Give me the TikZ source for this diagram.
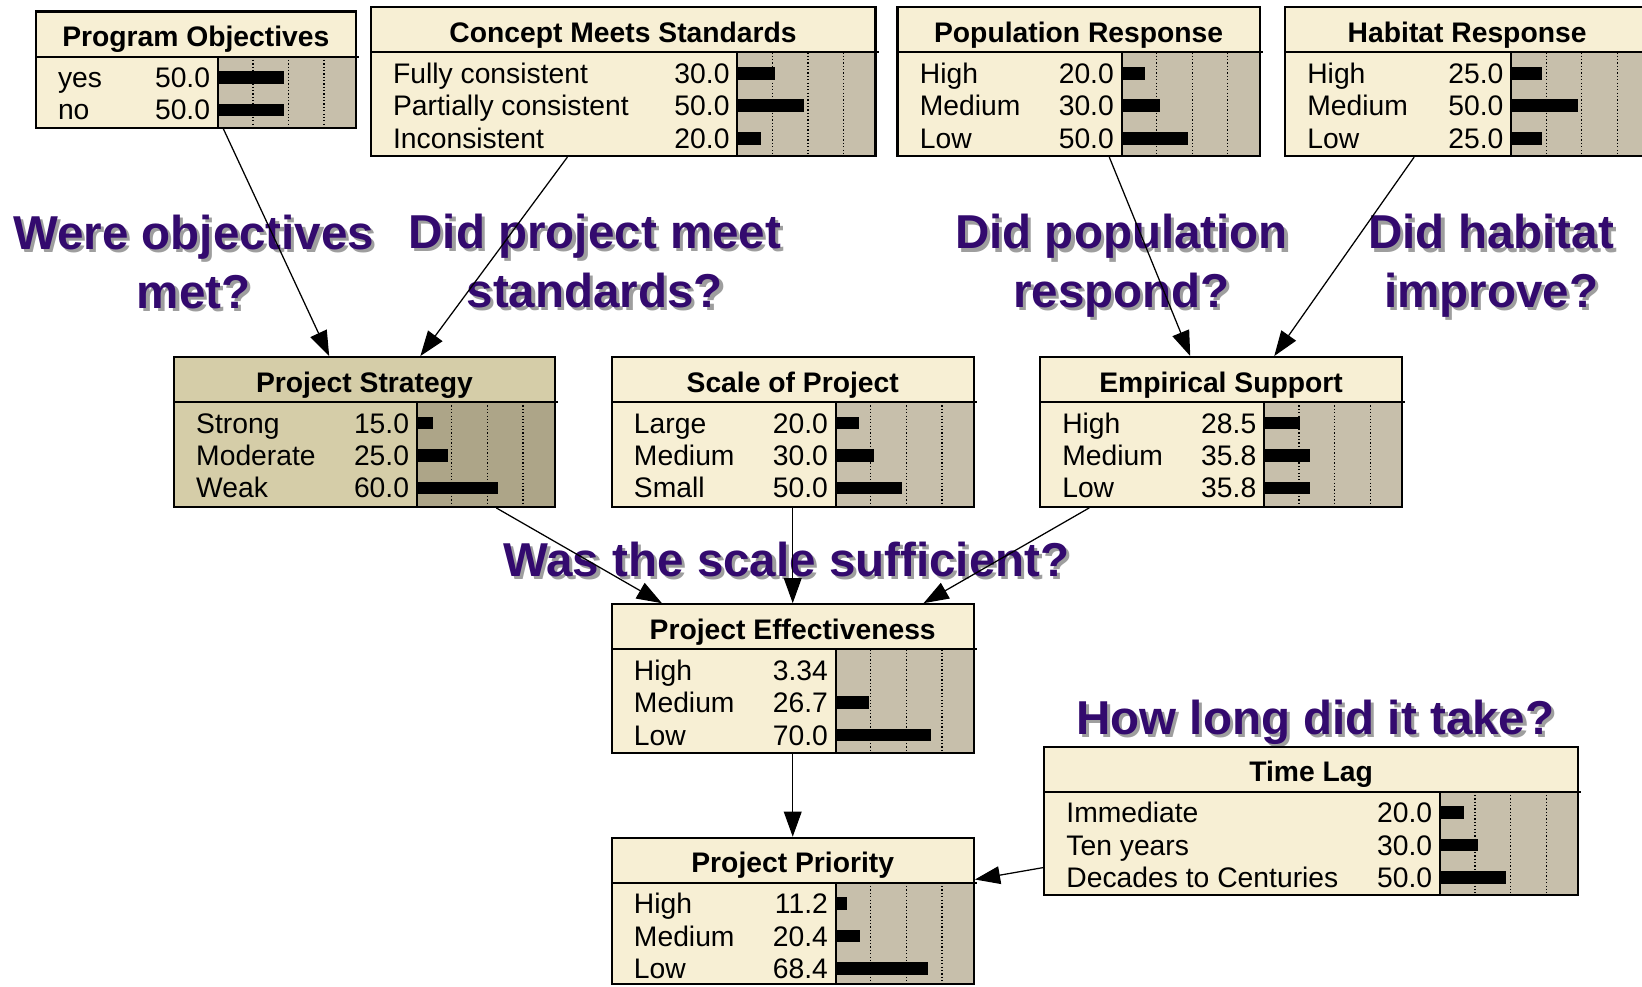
\documentclass[tikz,border=0pt]{standalone}
\usepackage{fontspec}
\setmainfont{Liberation Sans}
\usetikzlibrary{arrows.meta,fit}

\definecolor{cream}{HTML}{F7EFD4}
\definecolor{barback}{HTML}{C7BFAB}
\definecolor{tan}{HTML}{D5CDA8}
\definecolor{tanbar}{HTML}{ADA588}
\definecolor{askpurple}{HTML}{330A6E}
\definecolor{askshadow}{HTML}{9E9E9E}

\tikzset{
  headfill/.style={fill=cream},
  barfill/.style={fill=barback},
  boxframe/.style={draw, line width=1pt, inner sep=0pt},
  boxtitle/.style={font=\fontsize{13.5}{16}\selectfont\bfseries, inner sep=0pt},
  rowtext/.style={font=\fontsize{13.5}{16}\selectfont, inner sep=0pt},
  gridline/.style={densely dotted, line width=0.6pt},
  bnlink/.style={line width=0.6pt, -{Triangle[length=12pt,width=8.5pt]}},
  asked/.style={font=\fontsize{22.7}{28}\selectfont\bfseries, text=askpurple, align=center, inner sep=0pt},
  askedshadow/.style={asked, text=askshadow},
}

\newcommand{\bnbox}[8][]{%
  \begin{scope}[#1]
    \fill[headfill] (#3,#4) rectangle (#5,#6);
    \fill[barfill] (#5-132,#4+43) rectangle (#5,#6);
    \foreach \gx in {33.5,67.5,101.5}
      \draw[gridline] (#5-132+\gx,#4+43) -- (#5-132+\gx,#6);
    \node[boxtitle, anchor=base] at ({(#3+#5)/2},#4+33.5) {#7};
    \foreach \lab/\val [count=\i] in {#8} {
      \pgfmathsetmacro\ry{#4+32+31*\i}
      \pgfmathsetmacro\blen{max(0,1.36*\val-4.5)}
      \fill (#5-132,\ry-6) rectangle ++(\blen,12);
      \node[rowtext, anchor=base west] at (#3+21,\ry+9.5) {\lab};
      \node[rowtext, anchor=base east] at (#5-139,\ry+9.5) {\val};
    }
    \draw[line width=1pt] (#3,#4+43) -- (#5+3,#4+43);
    \draw[line width=1pt] (#5-132,#4+43) -- (#5-132,#6);
    \node[boxframe, fit={(#3,#4) (#5,#6)}] (#2) {};
  \end{scope}}

\newcommand{\asktext}[4]{%
  \node[askedshadow] at (#2+3,#3+3) {#4};
  \node[asked] (#1) at (#2,#3) {#4};}

\begin{document}
\begin{tikzpicture}[x=0.5pt, y=-0.5pt]
  \useasboundingbox (0,0) rectangle (1568,942);
  \clip (0,0) rectangle (1568,942);
  \fill[white] (0,0) rectangle (1568,942);

  \asktext{qobj}{185}{250}{Were objectives\\met?}
  \asktext{qstd}{568}{249}{Did project meet\\standards?}
  \asktext{qpop}{1071}{254}{Did population\\respond?}
  \asktext{qhab}{1424}{254}{Did habitat\\improve?}
  \asktext{qscale}{751}{534}{Was the scale sufficient?}
  \asktext{qlag}{1256}{690}{How long did it take?}

  \bnbox{po}{34}{11}{340}{122}{Program Objectives}{yes/50.0, no/50.0}
  \bnbox{cms}{354}{7}{836}{149}{Concept Meets Standards}{Fully consistent/30.0, Partially consistent/50.0, Inconsistent/20.0}
  \bnbox{pr}{857}{7}{1203}{149}{Population Response}{High/20.0, Medium/30.0, Low/50.0}
  \bnbox{hr}{1227}{7}{1575}{149}{Habitat Response}{High/25.0, Medium/50.0, Low/25.0}
  \bnbox[headfill/.style={fill=tan}, barfill/.style={fill=tanbar}]{ps}{166}{341}{530}{484}{Project Strategy}{Strong/15.0, Moderate/25.0, Weak/60.0}
  \bnbox{sp}{584}{341}{930}{484}{Scale of Project}{Large/20.0, Medium/30.0, Small/50.0}
  \bnbox{es}{993}{341}{1339}{484}{Empirical Support}{High/28.5, Medium/35.8, Low/35.8}
  \bnbox{pe}{584}{577}{930}{719}{Project Effectiveness}{High/3.34, Medium/26.7, Low/70.0}
  \bnbox{tl}{997}{713}{1507}{855}{Time Lag}{Immediate/20.0, Ten years/30.0, Decades to Centuries/50.0}
  \bnbox{pp}{584}{800}{930}{940}{Project Priority}{High/11.2, Medium/20.4, Low/68.4}

  \draw[bnlink] (po) -- (ps);
  \draw[bnlink] (cms) -- (ps);
  \draw[bnlink] (pr) -- (es);
  \draw[bnlink] (hr) -- (es);
  \draw[bnlink] (ps) -- (pe);
  \draw[bnlink] (sp) -- (pe);
  \draw[bnlink] (es) -- (pe);
  \draw[bnlink] (pe) -- (pp);
  \draw[bnlink] (tl) -- (pp);
\end{tikzpicture}
\end{document}
